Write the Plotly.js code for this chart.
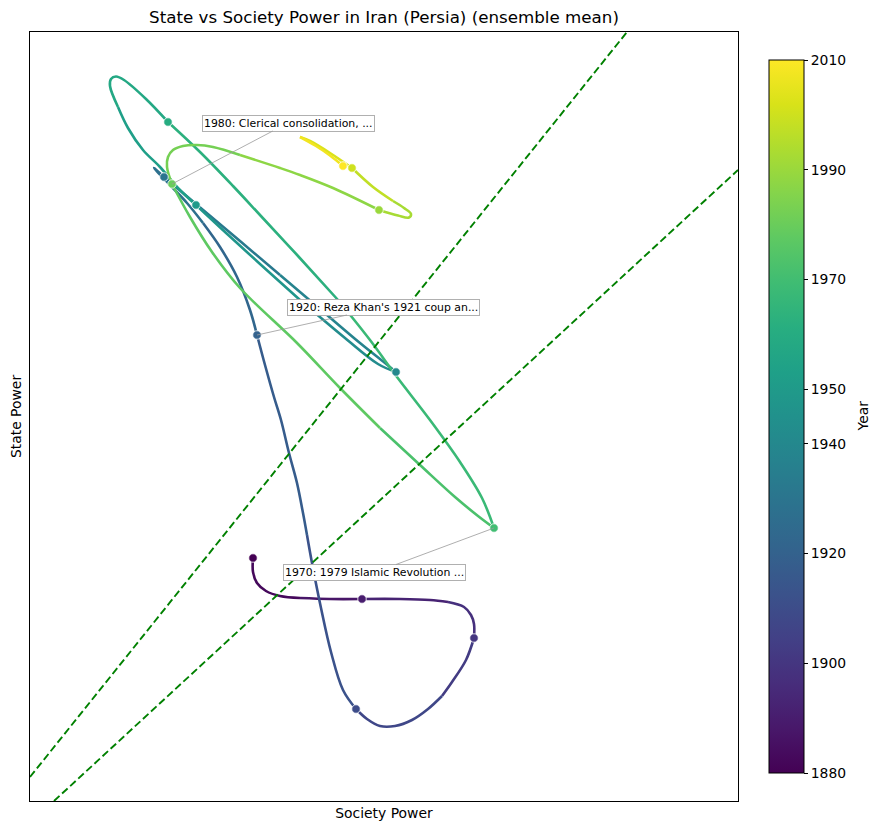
<!DOCTYPE html>
<html>
<head>
<meta charset="utf-8">
<script src="https://cdn.plot.ly/plotly-3.0.1.min.js"></script>
<style>
  body { margin: 0; background: #ffffff; }
  #chart { width: 879px; height: 831px; }
</style>
</head>
<body>
<div id="chart"></div>
<script>
// ---- Data (Society Power = x, State Power = y) ----
const pathYear = [
  1880, 1881, 1882, 1883, 1884, 1885, 1887, 1890, 1892, 1894, 1895, 1897, 1898, 1899, 1900,
  1902, 1904, 1905, 1906, 1907, 1908, 1908.7, 1909.3, 1910,
  1911, 1912, 1913, 1914, 1915, 1916, 1917, 1918, 1918.7, 1919.3, 1919.6, 1920,
  1921, 1922, 1924, 1925, 1926, 1927, 1928, 1930,
  1932, 1933, 1935, 1937, 1938, 1939, 1940,
  1941, 1943, 1945, 1947, 1948, 1950,
  1951, 1952, 1953, 1954, 1955, 1956, 1957, 1957.5, 1958, 1959, 1960,
  1961, 1962, 1963, 1964, 1965, 1966, 1967, 1968, 1969, 1969.5, 1970,
  1971, 1972, 1973, 1975, 1976, 1977, 1978, 1978.7, 1979.3, 1980,
  1981, 1982, 1982.5, 1983, 1984, 1984.5, 1985, 1986, 1987, 1988, 1990,
  1991, 1992, 1993, 1994, 1995, 1997, 2000,
  2002, 2004, 2005, 2007, 2008, 2010
];
const pathX = [
  2.23, 2.23, 2.27, 2.36, 2.50, 2.70, 3.00, 3.32, 3.70, 4.00, 4.18, 4.34, 4.41, 4.44, 4.44,
  4.36, 4.22, 4.12, 3.98, 3.82, 3.65, 3.50, 3.37, 3.26,
  3.13, 3.01, 2.91, 2.82, 2.77, 2.73, 2.67, 2.59, 2.51, 2.44, 2.35, 2.27,
  2.20, 2.07, 1.90, 1.73, 1.57, 1.40, 1.24, 1.34,
  1.66, 2.10, 2.50, 2.90, 3.30, 3.55, 3.66,
  3.48, 3.15, 2.70, 2.30, 1.95, 1.66,
  1.48, 1.30, 1.13, 0.98, 0.88, 0.80, 0.81, 0.86, 0.94, 1.16, 1.38,
  1.70, 2.03, 2.30, 2.68, 3.08, 3.40, 3.67, 4.00, 4.30, 4.52, 4.64,
  4.48, 4.25, 3.90, 3.50, 3.10, 2.67, 2.10, 1.82, 1.60, 1.42,
  1.37, 1.38, 1.43, 1.53, 1.67, 1.83, 2.10, 2.50, 2.70, 3.03, 3.49,
  3.68, 3.79, 3.81, 3.74, 3.63, 3.43, 3.22,
  3.00, 2.80, 2.70, 2.86, 3.00, 3.13
];
const pathY = [
  2.43, 2.29, 2.18, 2.10, 2.05, 2.03, 2.02, 2.02, 2.02, 2.01, 1.99, 1.94, 1.86, 1.77, 1.63,
  1.41, 1.19, 1.05, 0.92, 0.81, 0.75, 0.75, 0.82, 0.92,
  1.11, 1.49, 1.93, 2.38, 2.66, 2.88, 3.18, 3.48, 3.81, 4.04, 4.36, 4.66,
  4.91, 5.24, 5.54, 5.78, 5.98, 6.16, 6.33, 6.24,
  5.97, 5.60, 5.26, 4.92, 4.58, 4.38, 4.29,
  4.37, 4.63, 5.01, 5.37, 5.69, 5.96,
  6.13, 6.34, 6.51, 6.73, 6.94, 7.15, 7.22, 7.245, 7.21, 7.02, 6.79,
  6.49, 6.15, 5.86, 5.45, 5.01, 4.61, 4.24, 3.81, 3.39, 3.03, 2.73,
  2.85, 3.04, 3.36, 3.73, 4.13, 4.58, 5.13, 5.49, 5.84, 6.17,
  6.34, 6.44, 6.51, 6.55, 6.56, 6.54, 6.46, 6.33, 6.26, 6.13, 5.91,
  5.855, 5.835, 5.87, 5.93, 6.00, 6.14, 6.33,
  6.48, 6.60, 6.64, 6.55, 6.455, 6.35
];

// Reference (threshold) lines
const refLine1X = [0.00, 5.97];
const refLine1Y = [0.24, 7.69];
const refLine2X = [0.24, 7.08];
const refLine2Y = [0.00, 6.31];

// Annotated events
const annYears = [1980, 1920, 1970];
const annTexts = [
  "1980: Clerical consolidation, ...",
  "1920: Reza Khan's 1921 coup an...",
  "1970: 1979 Islamic Revolution ..."
];

// Colour bar
const yearMin = 1880, yearMax = 2010;
const cbTickVals = [1880, 1900, 1920, 1940, 1950, 1970, 1990, 2010];

// ---- Viridis helper ----
const viridisStops = ['#440154','#48186a','#472d7b','#424086','#3b528b','#33638d','#2c728e','#26828e',
  '#21918c','#1fa088','#28ae80','#3fbc73','#5ec962','#84d44b','#addc30','#d8e219','#fde725'];
function hexToRgb(h) { return [parseInt(h.substr(1,2),16), parseInt(h.substr(3,2),16), parseInt(h.substr(5,2),16)]; }
function viridis(t) {
  t = Math.max(0, Math.min(1, t));
  const n = viridisStops.length - 1;
  const p = t * n, i = Math.min(Math.floor(p), n - 1), f = p - i;
  const a = hexToRgb(viridisStops[i]), b = hexToRgb(viridisStops[i + 1]);
  return 'rgb(' + a.map((v, k) => Math.round(v + (b[k] - v) * f)).join(',') + ')';
}
const viridisScale = viridisStops.map((c, i) => [i / (viridisStops.length - 1), c]);

// ---- Build traces ----
const traces = [];
let s = 0;
for (let i = 1; i < pathYear.length; i++) {
  if (pathYear[i] % 5 === 0 || i === pathYear.length - 1) {
    const mid = (pathYear[s] + pathYear[i]) / 2;
    traces.push({
      type: 'scatter', mode: 'lines',
      x: pathX.slice(s, i + 1), y: pathY.slice(s, i + 1),
      line: { color: viridis((mid - yearMin) / (yearMax - yearMin)), width: 2.6, shape: 'spline', smoothing: 1 },
      hoverinfo: 'skip', showlegend: false
    });
    s = i;
  }
}

[[refLine1X, refLine1Y], [refLine2X, refLine2Y]].forEach(([lx, ly]) => {
  traces.push({
    type: 'scatter', mode: 'lines', x: lx, y: ly,
    line: { color: '#008000', width: 1.9, dash: '7.5px,3.5px' },
    hoverinfo: 'skip', showlegend: false
  });
});

const decIdx = pathYear.map((y, i) => (y % 10 === 0 ? i : -1)).filter(i => i >= 0);
traces.push({
  type: 'scatter', mode: 'markers',
  x: decIdx.map(i => pathX[i]), y: decIdx.map(i => pathY[i]),
  marker: {
    size: 8.5, color: decIdx.map(i => pathYear[i]), colorscale: viridisScale,
    cmin: yearMin, cmax: yearMax, line: { color: '#ffffff', width: 0.8 },
    showscale: true,
    colorbar: {
      thickness: 35, thicknessmode: 'pixels',
      len: 713, lenmode: 'pixels',
      x: (769 - 30) / 708, xanchor: 'left',
      y: 0.5, yanchor: 'middle',
      xpad: 0, ypad: 0,
      outlinewidth: 1, outlinecolor: '#000000',
      tickvals: cbTickVals, ticktext: cbTickVals.map(String),
      ticks: 'outside', ticklen: 4, tickwidth: 1, tickcolor: '#000000',
      tickfont: { size: 13.9, color: '#000000', family: 'DejaVu Sans' },
      title: { text: '' }
    }
  },
  hoverinfo: 'skip', showlegend: false
});

// ---- Annotations ----
const annOffsets = { 1980: [116, -61], 1920: [126, -28], 1970: [-119.5, 44.5] };
const annotations = annYears.map((yr, k) => {
  const i = pathYear.indexOf(yr);
  return {
    x: pathX[i], y: pathY[i], xref: 'x', yref: 'y',
    ax: annOffsets[yr][0], ay: annOffsets[yr][1],
    text: annTexts[k], showarrow: true, arrowhead: 0, arrowwidth: 0.8, arrowcolor: '#999999',
    font: { size: 10.9, color: '#000000', family: 'DejaVu Sans' },
    bgcolor: '#ffffff', bordercolor: '#b0b0b0', borderwidth: 1, borderpad: 1
  };
});
// Colour-bar title
annotations.push({
  text: 'Year', xref: 'paper', yref: 'paper', x: (862 - 30) / 708, y: 0.5,
  xanchor: 'center', yanchor: 'middle', textangle: -90, showarrow: false,
  font: { size: 13.9, color: '#000000', family: 'DejaVu Sans' }
});

const layout = {
  width: 879, height: 831,
  margin: { l: 30, r: 141, t: 32, b: 30 },
  paper_bgcolor: '#ffffff', plot_bgcolor: '#ffffff',
  font: { family: 'DejaVu Sans', color: '#000000' },
  title: {
    text: 'State vs Society Power in Iran (Persia) (ensemble mean)',
    font: { size: 16.7, color: '#000000', family: 'DejaVu Sans' },
    x: 0.5, xref: 'paper', y: 1 - 17 / 831, yref: 'container', yanchor: 'middle'
  },
  xaxis: {
    range: [0, 7.08], showgrid: false, zeroline: false, showticklabels: false, ticks: '',
    showline: true, mirror: true, linecolor: '#000000', linewidth: 1,
    title: { text: 'Society Power', font: { size: 13.9, color: '#000000' }, standoff: 7 }
  },
  yaxis: {
    range: [0, 7.69], showgrid: false, zeroline: false, showticklabels: false, ticks: '',
    showline: true, mirror: true, linecolor: '#000000', linewidth: 1,
    title: { text: 'State Power', font: { size: 13.9, color: '#000000' }, standoff: 4 }
  },
  annotations: annotations,
  showlegend: false
};

Plotly.newPlot('chart', traces, layout, { displayModeBar: false, staticPlot: true });
</script>
</body>
</html>
